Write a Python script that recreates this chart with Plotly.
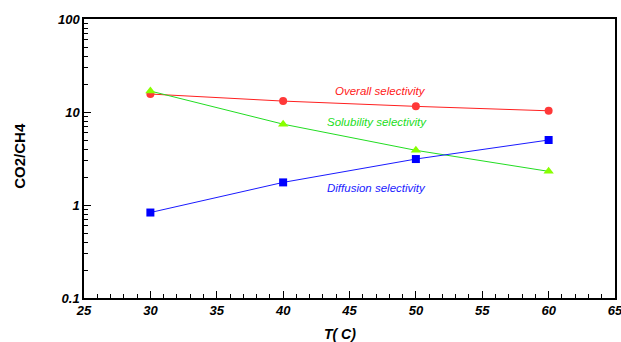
import plotly.graph_objects as go

temps = [30, 40, 50, 60]
overall = [15.6, 13.1, 11.5, 10.3]
solubility = [16.8, 7.4, 3.87, 2.30]
diffusion = [0.83, 1.75, 3.12, 5.0]

x_ticks = [25, 30, 35, 40, 45, 50, 55, 60, 65]
y_ticks = [0.1, 1, 10, 100]
y_ticktext = ["0.1", "1", "10", "100"]

fig = go.Figure()
fig.add_trace(go.Scatter(x=temps, y=overall, mode="lines+markers",
                         line=dict(color="#ff2020", width=1),
                         marker=dict(symbol="circle", size=8, color="#ff3838")))
fig.add_trace(go.Scatter(x=temps, y=solubility, mode="lines+markers",
                         line=dict(color="#22dd22", width=1),
                         marker=dict(symbol="triangle-up", size=9, color="#88ff00")))
fig.add_trace(go.Scatter(x=temps, y=diffusion, mode="lines+markers",
                         line=dict(color="#1a1aff", width=1),
                         marker=dict(symbol="square", size=8, color="#0000ff")))

ann_font = dict(family="Liberation Sans, Arial", size=11.5)
fig.add_annotation(x=47.3, y=1.226, text="<i>Overall selectivity</i>", showarrow=False,
                   font=dict(color="#ff2020", **ann_font))
fig.add_annotation(x=47.1, y=0.892, text="<i>Solubility selectivity</i>", showarrow=False,
                   font=dict(color="#22dd22", **ann_font))
fig.add_annotation(x=47.0, y=0.183, text="<i>Diffusion selectivity</i>", showarrow=False,
                   font=dict(color="#1a1aff", **ann_font))

# axis titles
fig.add_annotation(xref="paper", yref="paper", x=0.483, y=-0.129,
                   xanchor="center", yanchor="middle",
                   text="<b><i>T( C)</i></b>", showarrow=False,
                   font=dict(family="Liberation Sans, Arial", size=14, color="black"))
fig.add_annotation(xref="paper", yref="paper", x=-0.1205, y=0.51, textangle=-90,
                   xanchor="center", yanchor="middle",
                   text="<b>CO2/CH4</b>", showarrow=False,
                   font=dict(family="Liberation Sans, Arial", size=15, color="black"))

minor_y = [k * 10 ** e for e in (-1, 0, 1) for k in range(2, 10)]

tick_font = dict(family="Liberation Sans, Arial", size=13, color="black")
fig.update_layout(
    width=621, height=342,
    margin=dict(l=84, r=6, t=19, b=44),
    paper_bgcolor="white", plot_bgcolor="white",
    showlegend=False,
    xaxis=dict(range=[25, 65], tickvals=x_ticks, automargin=False,
               ticklabeloverflow="allow",
               ticktext=[f"<b><i>{v}</i></b>" for v in x_ticks],
               ticks="inside", ticklen=7, tickwidth=1, tickcolor="black",
               minor=dict(dtick=1, ticks="inside", ticklen=4, tickcolor="black"),
               showline=True, linecolor="black", linewidth=1.5, mirror=True,
               showgrid=False, zeroline=False, tickfont=tick_font),
    yaxis=dict(type="log", range=[-1, 2], tickvals=y_ticks, automargin=False,
               ticklabeloverflow="allow",
               ticktext=[f"<b><i>{t}</i></b>" for t in y_ticktext],
               ticks="inside", ticklen=7, tickwidth=1, tickcolor="black",
               minor=dict(tickvals=minor_y, ticks="inside", ticklen=4, tickcolor="black"),
               showline=True, linecolor="black", linewidth=1.5, mirror=True,
               showgrid=False, zeroline=False, tickfont=tick_font),
)

fig.write_html("out.html", config={"displayModeBar": False},
               post_script="document.body.style.margin='0';document.body.style.overflow='hidden';")
